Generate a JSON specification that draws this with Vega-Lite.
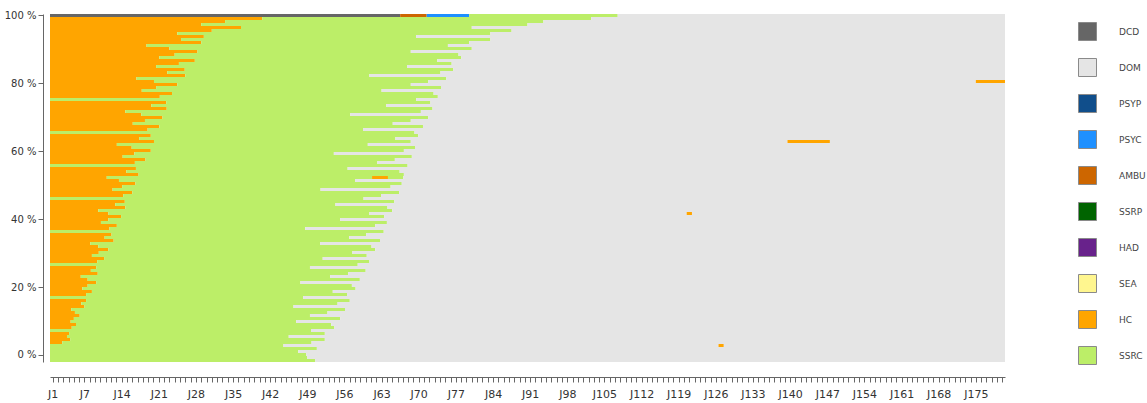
{
"$schema":"https://vega.github.io/schema/vega-lite/v6.json",
"width":955,"height":348,
"autosize":"none",
"padding":{"left":50,"top":14,"right":142,"bottom":41},
"background":"white",
"config":{"view":{"stroke":null},"font":"DejaVu Sans"},
"layer":[
{
"data":{"values":[
{"i":1,"s":"DCD","a":0,"b":66},{"i":1,"s":"AMBU","a":66,"b":71},{"i":1,"s":"PSYC","a":71,"b":79},{"i":1,"s":"SSRC","a":79,"b":107},{"i":1,"s":"DOM","a":107,"b":180},
{"i":2,"s":"HC","a":0,"b":40},{"i":2,"s":"SSRC","a":40,"b":102},{"i":2,"s":"DOM","a":102,"b":180},
{"i":3,"s":"HC","a":0,"b":33},{"i":3,"s":"SSRC","a":33,"b":93},{"i":3,"s":"DOM","a":93,"b":180},
{"i":4,"s":"HC","a":0,"b":28.5},{"i":4,"s":"SSRC","a":28.5,"b":90},{"i":4,"s":"DOM","a":90,"b":180},
{"i":5,"s":"HC","a":0,"b":36},{"i":5,"s":"SSRC","a":36,"b":79.5},{"i":5,"s":"DOM","a":79.5,"b":180},
{"i":6,"s":"HC","a":0,"b":30.5},{"i":6,"s":"SSRC","a":30.5,"b":87},{"i":6,"s":"DOM","a":87,"b":180},
{"i":7,"s":"HC","a":0,"b":24},{"i":7,"s":"SSRC","a":24,"b":83},{"i":7,"s":"DOM","a":83,"b":180},
{"i":8,"s":"HC","a":0,"b":29},{"i":8,"s":"SSRC","a":29,"b":69},{"i":8,"s":"DOM","a":69,"b":180},
{"i":9,"s":"HC","a":0,"b":24.7},{"i":9,"s":"SSRC","a":24.7,"b":83},{"i":9,"s":"DOM","a":83,"b":180},
{"i":10,"s":"HC","a":0,"b":28.5},{"i":10,"s":"SSRC","a":28.5,"b":79},{"i":10,"s":"DOM","a":79,"b":180},
{"i":11,"s":"HC","a":0,"b":18.2},{"i":11,"s":"SSRC","a":18.2,"b":75},{"i":11,"s":"DOM","a":75,"b":180},
{"i":12,"s":"HC","a":0,"b":22.5},{"i":12,"s":"SSRC","a":22.5,"b":79.5},{"i":12,"s":"DOM","a":79.5,"b":180},
{"i":13,"s":"HC","a":0,"b":27.8},{"i":13,"s":"SSRC","a":27.8,"b":68},{"i":13,"s":"DOM","a":68,"b":180},
{"i":14,"s":"HC","a":0,"b":23.5},{"i":14,"s":"SSRC","a":23.5,"b":77},{"i":14,"s":"DOM","a":77,"b":180},
{"i":15,"s":"HC","a":0,"b":20.6},{"i":15,"s":"SSRC","a":20.6,"b":77.5},{"i":15,"s":"DOM","a":77.5,"b":180},
{"i":16,"s":"HC","a":0,"b":27.3},{"i":16,"s":"SSRC","a":27.3,"b":73},{"i":16,"s":"DOM","a":73,"b":180},
{"i":17,"s":"HC","a":0,"b":24.3},{"i":17,"s":"SSRC","a":24.3,"b":75.7},{"i":17,"s":"DOM","a":75.7,"b":180},
{"i":18,"s":"HC","a":0,"b":20},{"i":18,"s":"SSRC","a":20,"b":67.3},{"i":18,"s":"DOM","a":67.3,"b":180},
{"i":19,"s":"HC","a":0,"b":25.4},{"i":19,"s":"SSRC","a":25.4,"b":76},{"i":19,"s":"DOM","a":76,"b":180},
{"i":20,"s":"HC","a":0,"b":22.1},{"i":20,"s":"SSRC","a":22.1,"b":73.6},{"i":20,"s":"DOM","a":73.6,"b":180},
{"i":21,"s":"HC","a":0,"b":25.5},{"i":21,"s":"SSRC","a":25.5,"b":60.2},{"i":21,"s":"DOM","a":60.2,"b":180},
{"i":22,"s":"HC","a":0,"b":16.3},{"i":22,"s":"SSRC","a":16.3,"b":74.7},{"i":22,"s":"DOM","a":74.7,"b":180},
{"i":23,"s":"HC","a":0,"b":19.6},{"i":23,"s":"SSRC","a":19.6,"b":71.3},{"i":23,"s":"DOM","a":71.3,"b":174.5},{"i":23,"s":"HC","a":174.5,"b":180},
{"i":24,"s":"HC","a":0,"b":24},{"i":24,"s":"SSRC","a":24,"b":68},{"i":24,"s":"DOM","a":68,"b":180},
{"i":25,"s":"HC","a":0,"b":20},{"i":25,"s":"SSRC","a":20,"b":73.7},{"i":25,"s":"DOM","a":73.7,"b":180},
{"i":26,"s":"HC","a":0,"b":17.3},{"i":26,"s":"SSRC","a":17.3,"b":62.5},{"i":26,"s":"DOM","a":62.5,"b":180},
{"i":27,"s":"HC","a":0,"b":23},{"i":27,"s":"SSRC","a":23,"b":72.3},{"i":27,"s":"DOM","a":72.3,"b":180},
{"i":28,"s":"HC","a":0,"b":20.7},{"i":28,"s":"SSRC","a":20.7,"b":73.1},{"i":28,"s":"DOM","a":73.1,"b":180},
{"i":29,"s":"SSRC","a":0,"b":69},{"i":29,"s":"DOM","a":69,"b":180},
{"i":30,"s":"HC","a":0,"b":21.9},{"i":30,"s":"SSRC","a":21.9,"b":71.7},{"i":30,"s":"DOM","a":71.7,"b":180},
{"i":31,"s":"HC","a":0,"b":19.1},{"i":31,"s":"SSRC","a":19.1,"b":63.4},{"i":31,"s":"DOM","a":63.4,"b":180},
{"i":32,"s":"HC","a":0,"b":22},{"i":32,"s":"SSRC","a":22,"b":72.1},{"i":32,"s":"DOM","a":72.1,"b":180},
{"i":33,"s":"HC","a":0,"b":14.2},{"i":33,"s":"SSRC","a":14.2,"b":69.9},{"i":33,"s":"DOM","a":69.9,"b":180},
{"i":34,"s":"HC","a":0,"b":17.2},{"i":34,"s":"SSRC","a":17.2,"b":56.6},{"i":34,"s":"DOM","a":56.6,"b":180},
{"i":35,"s":"HC","a":0,"b":21.2},{"i":35,"s":"SSRC","a":21.2,"b":71.3},{"i":35,"s":"DOM","a":71.3,"b":180},
{"i":36,"s":"HC","a":0,"b":17.9},{"i":36,"s":"SSRC","a":17.9,"b":68},{"i":36,"s":"DOM","a":68,"b":180},
{"i":37,"s":"HC","a":0,"b":15.6},{"i":37,"s":"SSRC","a":15.6,"b":64.6},{"i":37,"s":"DOM","a":64.6,"b":180},
{"i":38,"s":"HC","a":0,"b":20.6},{"i":38,"s":"SSRC","a":20.6,"b":70.3},{"i":38,"s":"DOM","a":70.3,"b":180},
{"i":39,"s":"HC","a":0,"b":18.4},{"i":39,"s":"SSRC","a":18.4,"b":59},{"i":39,"s":"DOM","a":59,"b":180},
{"i":40,"s":"SSRC","a":0,"b":68.7},{"i":40,"s":"DOM","a":68.7,"b":180},
{"i":41,"s":"HC","a":0,"b":19},{"i":41,"s":"SSRC","a":19,"b":69.4},{"i":41,"s":"DOM","a":69.4,"b":180},
{"i":42,"s":"HC","a":0,"b":16.8},{"i":42,"s":"SSRC","a":16.8,"b":65.1},{"i":42,"s":"DOM","a":65.1,"b":180},
{"i":43,"s":"HC","a":0,"b":19.6},{"i":43,"s":"SSRC","a":19.6,"b":68},{"i":43,"s":"DOM","a":68,"b":139},{"i":43,"s":"HC","a":139,"b":147},{"i":43,"s":"DOM","a":147,"b":180},
{"i":44,"s":"HC","a":0,"b":12.6},{"i":44,"s":"SSRC","a":12.6,"b":59.9},{"i":44,"s":"DOM","a":59.9,"b":180},
{"i":45,"s":"HC","a":0,"b":15.4},{"i":45,"s":"SSRC","a":15.4,"b":68.8},{"i":45,"s":"DOM","a":68.8,"b":180},
{"i":46,"s":"HC","a":0,"b":19},{"i":46,"s":"SSRC","a":19,"b":66.7},{"i":46,"s":"DOM","a":66.7,"b":180},
{"i":47,"s":"HC","a":0,"b":15.9},{"i":47,"s":"SSRC","a":15.9,"b":53.5},{"i":47,"s":"DOM","a":53.5,"b":180},
{"i":48,"s":"HC","a":0,"b":13.7},{"i":48,"s":"SSRC","a":13.7,"b":68.2},{"i":48,"s":"DOM","a":68.2,"b":180},
{"i":49,"s":"HC","a":0,"b":18},{"i":49,"s":"SSRC","a":18,"b":65},{"i":49,"s":"DOM","a":65,"b":180},
{"i":50,"s":"HC","a":0,"b":16},{"i":50,"s":"SSRC","a":16,"b":61.7},{"i":50,"s":"DOM","a":61.7,"b":180},
{"i":51,"s":"SSRC","a":0,"b":67.4},{"i":51,"s":"DOM","a":67.4,"b":180},
{"i":52,"s":"HC","a":0,"b":16.2},{"i":52,"s":"SSRC","a":16.2,"b":56.1},{"i":52,"s":"DOM","a":56.1,"b":180},
{"i":53,"s":"HC","a":0,"b":14.4},{"i":53,"s":"SSRC","a":14.4,"b":65.9},{"i":53,"s":"DOM","a":65.9,"b":180},
{"i":54,"s":"HC","a":0,"b":16.7},{"i":54,"s":"SSRC","a":16.7,"b":66.7},{"i":54,"s":"DOM","a":66.7,"b":180},
{"i":55,"s":"HC","a":0,"b":10.7},{"i":55,"s":"SSRC","a":10.7,"b":60.7},{"i":55,"s":"HC","a":60.7,"b":63.7},{"i":55,"s":"SSRC","a":63.7,"b":66.6},{"i":55,"s":"DOM","a":66.6,"b":180},
{"i":56,"s":"HC","a":0,"b":13},{"i":56,"s":"SSRC","a":13,"b":57.5},{"i":56,"s":"DOM","a":57.5,"b":180},
{"i":57,"s":"HC","a":0,"b":16.1},{"i":57,"s":"SSRC","a":16.1,"b":66.3},{"i":57,"s":"DOM","a":66.3,"b":180},
{"i":58,"s":"HC","a":0,"b":13.6},{"i":58,"s":"SSRC","a":13.6,"b":64.2},{"i":58,"s":"DOM","a":64.2,"b":180},
{"i":59,"s":"HC","a":0,"b":11.8},{"i":59,"s":"SSRC","a":11.8,"b":51},{"i":59,"s":"DOM","a":51,"b":180},
{"i":60,"s":"HC","a":0,"b":15.5},{"i":60,"s":"SSRC","a":15.5,"b":65.8},{"i":60,"s":"DOM","a":65.8,"b":180},
{"i":61,"s":"HC","a":0,"b":13.8},{"i":61,"s":"SSRC","a":13.8,"b":62.4},{"i":61,"s":"DOM","a":62.4,"b":180},
{"i":62,"s":"SSRC","a":0,"b":59.1},{"i":62,"s":"DOM","a":59.1,"b":180},
{"i":63,"s":"HC","a":0,"b":14.1},{"i":63,"s":"SSRC","a":14.1,"b":64.9},{"i":63,"s":"DOM","a":64.9,"b":180},
{"i":64,"s":"HC","a":0,"b":12.3},{"i":64,"s":"SSRC","a":12.3,"b":53.8},{"i":64,"s":"DOM","a":53.8,"b":180},
{"i":65,"s":"HC","a":0,"b":14.2},{"i":65,"s":"SSRC","a":14.2,"b":63.6},{"i":65,"s":"DOM","a":63.6,"b":180},
{"i":66,"s":"HC","a":0,"b":9.1},{"i":66,"s":"SSRC","a":9.1,"b":64.5},{"i":66,"s":"DOM","a":64.5,"b":180},
{"i":67,"s":"HC","a":0,"b":11},{"i":67,"s":"SSRC","a":11,"b":60.2},{"i":67,"s":"DOM","a":60.2,"b":120},{"i":67,"s":"HC","a":120,"b":121},{"i":67,"s":"DOM","a":121,"b":180},
{"i":68,"s":"HC","a":0,"b":13.4},{"i":68,"s":"SSRC","a":13.4,"b":63},{"i":68,"s":"DOM","a":63,"b":180},
{"i":69,"s":"HC","a":0,"b":11},{"i":69,"s":"SSRC","a":11,"b":54.7},{"i":69,"s":"DOM","a":54.7,"b":180},
{"i":70,"s":"HC","a":0,"b":9.6},{"i":70,"s":"SSRC","a":9.6,"b":63.5},{"i":70,"s":"DOM","a":63.5,"b":180},
{"i":71,"s":"HC","a":0,"b":12.6},{"i":71,"s":"SSRC","a":12.6,"b":61.3},{"i":71,"s":"DOM","a":61.3,"b":180},
{"i":72,"s":"HC","a":0,"b":11.2},{"i":72,"s":"SSRC","a":11.2,"b":48.1},{"i":72,"s":"DOM","a":48.1,"b":180},
{"i":73,"s":"SSRC","a":0,"b":62.9},{"i":73,"s":"DOM","a":62.9,"b":180},
{"i":74,"s":"HC","a":0,"b":11.6},{"i":74,"s":"SSRC","a":11.6,"b":59.6},{"i":74,"s":"DOM","a":59.6,"b":180},
{"i":75,"s":"HC","a":0,"b":10.3},{"i":75,"s":"SSRC","a":10.3,"b":56.4},{"i":75,"s":"DOM","a":56.4,"b":180},
{"i":76,"s":"HC","a":0,"b":12},{"i":76,"s":"SSRC","a":12,"b":62.2},{"i":76,"s":"DOM","a":62.2,"b":180},
{"i":77,"s":"HC","a":0,"b":7.6},{"i":77,"s":"SSRC","a":7.6,"b":50.9},{"i":77,"s":"DOM","a":50.9,"b":180},
{"i":78,"s":"HC","a":0,"b":9.1},{"i":78,"s":"SSRC","a":9.1,"b":60.6},{"i":78,"s":"DOM","a":60.6,"b":180},
{"i":79,"s":"HC","a":0,"b":11},{"i":79,"s":"SSRC","a":11,"b":61.3},{"i":79,"s":"DOM","a":61.3,"b":180},
{"i":80,"s":"HC","a":0,"b":9.2},{"i":80,"s":"SSRC","a":9.2,"b":57},{"i":80,"s":"DOM","a":57,"b":180},
{"i":81,"s":"HC","a":0,"b":7.9},{"i":81,"s":"SSRC","a":7.9,"b":59.7},{"i":81,"s":"DOM","a":59.7,"b":180},
{"i":82,"s":"HC","a":0,"b":10.2},{"i":82,"s":"SSRC","a":10.2,"b":51.4},{"i":82,"s":"DOM","a":51.4,"b":180},
{"i":83,"s":"HC","a":0,"b":8.9},{"i":83,"s":"SSRC","a":8.9,"b":60.2},{"i":83,"s":"DOM","a":60.2,"b":180},
{"i":84,"s":"SSRC","a":0,"b":58},{"i":84,"s":"DOM","a":58,"b":180},
{"i":85,"s":"HC","a":0,"b":8.7},{"i":85,"s":"SSRC","a":8.7,"b":49},{"i":85,"s":"DOM","a":49,"b":180},
{"i":86,"s":"HC","a":0,"b":7.7},{"i":86,"s":"SSRC","a":7.7,"b":59.5},{"i":86,"s":"DOM","a":59.5,"b":180},
{"i":87,"s":"HC","a":0,"b":9},{"i":87,"s":"SSRC","a":9,"b":56.2},{"i":87,"s":"DOM","a":56.2,"b":180},
{"i":88,"s":"HC","a":0,"b":5.8},{"i":88,"s":"SSRC","a":5.8,"b":52.8},{"i":88,"s":"DOM","a":52.8,"b":180},
{"i":89,"s":"HC","a":0,"b":7.1},{"i":89,"s":"SSRC","a":7.1,"b":58.4},{"i":89,"s":"DOM","a":58.4,"b":180},
{"i":90,"s":"HC","a":0,"b":8.7},{"i":90,"s":"SSRC","a":8.7,"b":47.2},{"i":90,"s":"DOM","a":47.2,"b":180},
{"i":91,"s":"HC","a":0,"b":7.1},{"i":91,"s":"SSRC","a":7.1,"b":56.9},{"i":91,"s":"DOM","a":56.9,"b":180},
{"i":92,"s":"HC","a":0,"b":6.1},{"i":92,"s":"SSRC","a":6.1,"b":57.6},{"i":92,"s":"DOM","a":57.6,"b":180},
{"i":93,"s":"HC","a":0,"b":7.9},{"i":93,"s":"SSRC","a":7.9,"b":53.3},{"i":93,"s":"DOM","a":53.3,"b":180},
{"i":94,"s":"HC","a":0,"b":6.8},{"i":94,"s":"SSRC","a":6.8,"b":56},{"i":94,"s":"DOM","a":56,"b":180},
{"i":95,"s":"SSRC","a":0,"b":47.7},{"i":95,"s":"DOM","a":47.7,"b":180},
{"i":96,"s":"HC","a":0,"b":6.8},{"i":96,"s":"SSRC","a":6.8,"b":56.5},{"i":96,"s":"DOM","a":56.5,"b":180},
{"i":97,"s":"HC","a":0,"b":5.9},{"i":97,"s":"SSRC","a":5.9,"b":54.2},{"i":97,"s":"DOM","a":54.2,"b":180},
{"i":98,"s":"HC","a":0,"b":6.5},{"i":98,"s":"SSRC","a":6.5,"b":45.9},{"i":98,"s":"DOM","a":45.9,"b":180},
{"i":99,"s":"HC","a":0,"b":4},{"i":99,"s":"SSRC","a":4,"b":55.6},{"i":99,"s":"DOM","a":55.6,"b":180},
{"i":100,"s":"HC","a":0,"b":4.7},{"i":100,"s":"SSRC","a":4.7,"b":52.3},{"i":100,"s":"DOM","a":52.3,"b":180},
{"i":101,"s":"HC","a":0,"b":5.6},{"i":101,"s":"SSRC","a":5.6,"b":49},{"i":101,"s":"DOM","a":49,"b":180},
{"i":102,"s":"HC","a":0,"b":4.5},{"i":102,"s":"SSRC","a":4.5,"b":54.7},{"i":102,"s":"DOM","a":54.7,"b":180},
{"i":103,"s":"HC","a":0,"b":3.9},{"i":103,"s":"SSRC","a":3.9,"b":46.4},{"i":103,"s":"DOM","a":46.4,"b":180},
{"i":104,"s":"HC","a":0,"b":4.9},{"i":104,"s":"SSRC","a":4.9,"b":53},{"i":104,"s":"DOM","a":53,"b":180},
{"i":105,"s":"HC","a":0,"b":4.1},{"i":105,"s":"SSRC","a":4.1,"b":53.6},{"i":105,"s":"DOM","a":53.6,"b":180},
{"i":106,"s":"SSRC","a":0,"b":49.2},{"i":106,"s":"DOM","a":49.2,"b":180},
{"i":107,"s":"HC","a":0,"b":3.6},{"i":107,"s":"SSRC","a":3.6,"b":51.8},{"i":107,"s":"DOM","a":51.8,"b":180},
{"i":108,"s":"HC","a":0,"b":3.2},{"i":108,"s":"SSRC","a":3.2,"b":45},{"i":108,"s":"DOM","a":45,"b":180},
{"i":109,"s":"HC","a":0,"b":3.8},{"i":109,"s":"SSRC","a":3.8,"b":51.8},{"i":109,"s":"DOM","a":51.8,"b":180},
{"i":110,"s":"HC","a":0,"b":2.3},{"i":110,"s":"SSRC","a":2.3,"b":49.3},{"i":110,"s":"DOM","a":49.3,"b":180},
{"i":111,"s":"SSRC","a":0,"b":44},{"i":111,"s":"DOM","a":44,"b":126},{"i":111,"s":"HC","a":126,"b":127},{"i":111,"s":"DOM","a":127,"b":180},
{"i":112,"s":"SSRC","a":0,"b":50.3},{"i":112,"s":"DOM","a":50.3,"b":180},
{"i":113,"s":"SSRC","a":0,"b":46.8},{"i":113,"s":"DOM","a":46.8,"b":180},
{"i":114,"s":"SSRC","a":0,"b":48.3},{"i":114,"s":"DOM","a":48.3,"b":180},
{"i":115,"s":"SSRC","a":0,"b":48.5},{"i":115,"s":"DOM","a":48.5,"b":180},
{"i":116,"s":"SSRC","a":0,"b":50},{"i":116,"s":"DOM","a":50,"b":180}
]},
"mark":{"type":"rect"},
"encoding":{
"y":{"field":"i","type":"ordinal","axis":null,"scale":{"paddingInner":0,"paddingOuter":0}},
"x":{"field":"a","type":"quantitative","scale":{"domain":[0,180],"nice":false,"zero":false},
"axis":{"orient":"bottom","offset":15,"title":null,"grid":false,"tickSize":5,"labelPadding":6,"labelFontSize":11,"labelColor":"#333","domainColor":"#666","tickColor":"#666","labelOverlap":false,"labelFlush":false,"labelBound":false,
"values":[0.5,1.5,2.5,3.5,4.5,5.5,6.5,7.5,8.5,9.5,10.5,11.5,12.5,13.5,14.5,15.5,16.5,17.5,18.5,19.5,20.5,21.5,22.5,23.5,24.5,25.5,26.5,27.5,28.5,29.5,30.5,31.5,32.5,33.5,34.5,35.5,36.5,37.5,38.5,39.5,40.5,41.5,42.5,43.5,44.5,45.5,46.5,47.5,48.5,49.5,50.5,51.5,52.5,53.5,54.5,55.5,56.5,57.5,58.5,59.5,60.5,61.5,62.5,63.5,64.5,65.5,66.5,67.5,68.5,69.5,70.5,71.5,72.5,73.5,74.5,75.5,76.5,77.5,78.5,79.5,80.5,81.5,82.5,83.5,84.5,85.5,86.5,87.5,88.5,89.5,90.5,91.5,92.5,93.5,94.5,95.5,96.5,97.5,98.5,99.5,100.5,101.5,102.5,103.5,104.5,105.5,106.5,107.5,108.5,109.5,110.5,111.5,112.5,113.5,114.5,115.5,116.5,117.5,118.5,119.5,120.5,121.5,122.5,123.5,124.5,125.5,126.5,127.5,128.5,129.5,130.5,131.5,132.5,133.5,134.5,135.5,136.5,137.5,138.5,139.5,140.5,141.5,142.5,143.5,144.5,145.5,146.5,147.5,148.5,149.5,150.5,151.5,152.5,153.5,154.5,155.5,156.5,157.5,158.5,159.5,160.5,161.5,162.5,163.5,164.5,165.5,166.5,167.5,168.5,169.5,170.5,171.5,172.5,173.5,174.5,175.5,176.5,177.5,178.5,179.5],
"labelExpr":"(datum.value+0.5)==1 || (datum.value+0.5)%7==0 ? 'J'+(datum.value+0.5) : ''"}},
"x2":{"field":"b"},
"color":{"field":"s","type":"nominal",
"scale":{"domain":["DCD","DOM","PSYP","PSYC","AMBU","SSRP","HAD","SEA","HC","SSRC"],
"range":["#666666","#e5e5e5","#104e8b","#1e90ff","#cd6600","#006400","#68228b","#fff68f","#ffa500","#bcee68"]},
"legend":{"title":null,"orient":"none","legendX":1028,"legendY":8,"direction":"vertical","symbolType":"square","symbolSize":324,"symbolStrokeColor":"#8a8a8a","symbolStrokeWidth":1,"symbolOpacity":1,"rowPadding":13,"labelOffset":22,"labelFontSize":9,"labelColor":"#444","padding":0}}
}
},
{
"data":{"values":[{"p":0},{"p":100}]},
"mark":{"type":"rule","opacity":0},
"encoding":{
"y":{"field":"p","type":"quantitative","scale":{"domain":[-2.06,100.3],"nice":false,"zero":false},
"axis":{"orient":"left","offset":7,"title":null,"grid":false,"values":[0,20,40,60,80,100],"labelExpr":"datum.value + ' %'","tickSize":5,"labelPadding":2,"labelFontSize":10,"labelColor":"#333","domainColor":"#666","tickColor":"#666"}}
}
}
],
"resolve":{"scale":{"y":"independent"},"axis":{"y":"independent"}}
}
